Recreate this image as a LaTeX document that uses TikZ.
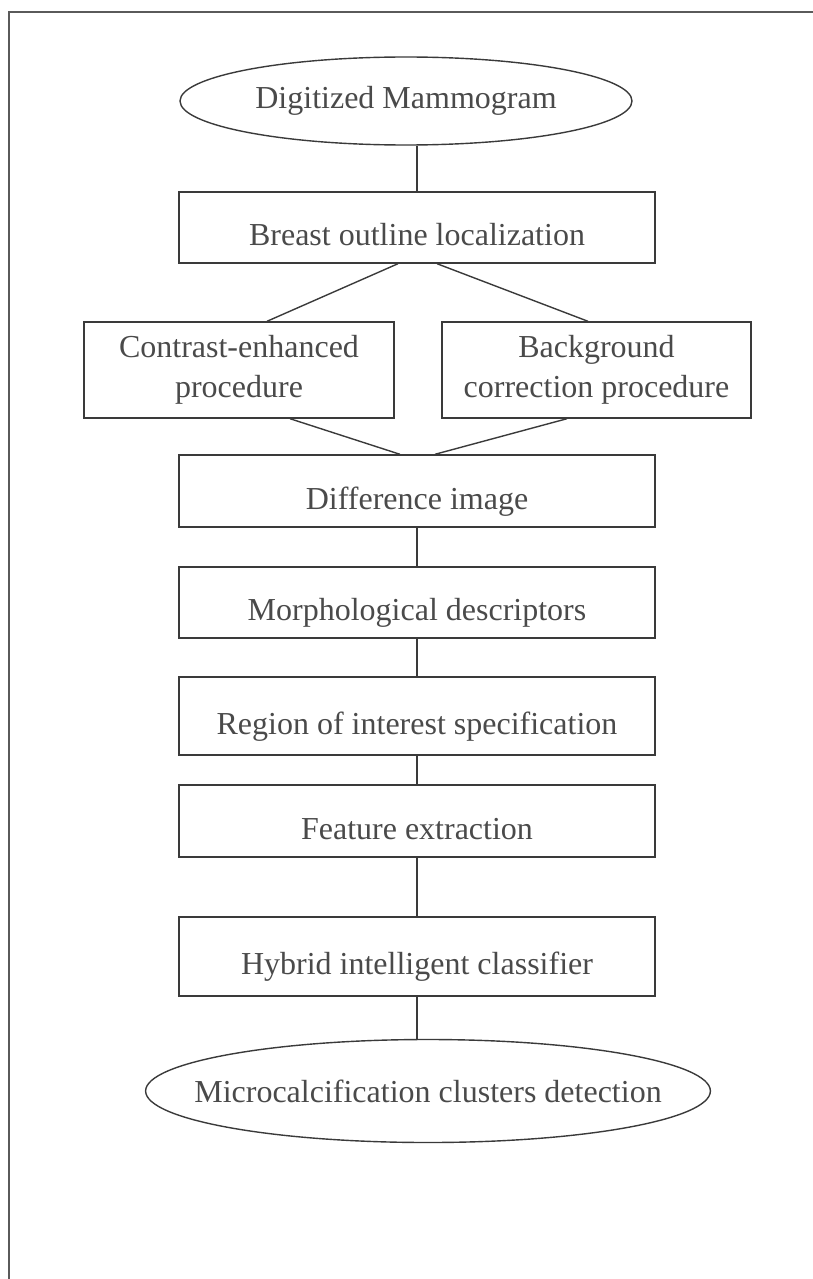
\documentclass[tikz,border=0pt]{standalone}
\usepackage{fontspec}
\setmainfont{Liberation Serif}
\usetikzlibrary{shapes.geometric,calc}
\definecolor{inkgray}{HTML}{4A4A4A}
\definecolor{linegray}{HTML}{3A3A3A}
\definecolor{framegray}{HTML}{5A5A5A}

\begin{document}
\begin{tikzpicture}[x=0.5pt,y=-0.5pt,
    stepbox/.style={draw=linegray, line width=0.7pt, rectangle, inner sep=0pt,
        text=inkgray, font=\fontsize{16}{20}\selectfont, minimum width=238pt},
    onerow/.style={text height=18pt, text depth=0pt},
    tworow/.style={align=center, minimum height=48pt},
    terminal/.style={draw=linegray, line width=0.7pt, ellipse, inner sep=0pt,
        text=inkgray, font=\fontsize{16}{20}\selectfont},
    link/.style={draw=linegray, line width=0.7pt}]

    \useasboundingbox (0,0) rectangle (813,1279);

    % page frame
    \draw[framegray, line width=1pt] (813,12) -- (9,12) -- (9,1279);

    % start and end
    \node[terminal, minimum width=226pt, minimum height=44pt] (mammo) at (406,101) {Digitized Mammogram};
    \node[terminal, inner xsep=-17pt, minimum width=278pt, minimum height=51.5pt] (detect) at (428,1091) {Microcalcification clusters detection};

    % main steps
    \node[stepbox, onerow, minimum height=35.5pt] (outline) at (417,227.5) {Breast outline localization};
    \node[stepbox, tworow, minimum width=155pt] (contrast) at (239,370) {Contrast-enhanced\\procedure};
    \node[stepbox, tworow, minimum width=154.5pt] (backgr) at (596.5,370) {Background\\correction procedure};
    \node[stepbox, onerow, minimum height=36pt] (diff) at (417,491) {Difference image};
    \node[stepbox, onerow, minimum height=35.5pt] (morph) at (417,602.5) {Morphological descriptors};
    \node[stepbox, onerow, minimum height=39pt] (roi) at (417,716) {Region of interest specification};
    \node[stepbox, onerow, minimum height=36pt] (feat) at (417,821) {Feature extraction};
    \node[stepbox, onerow, minimum height=39.5pt] (hybrid) at (417,956.5) {Hybrid intelligent classifier};

    % straight links
    \draw[link] (outline.north) -- (outline.north |- mammo.south);
    \draw[link] (diff.south) -- (morph.north);
    \draw[link] (morph.south) -- (roi.north);
    \draw[link] (roi.south) -- (feat.north);
    \draw[link] (feat.south) -- (hybrid.north);
    \draw[link] (hybrid.south) -- (hybrid.south |- detect.north);

    % split and merge
    \draw[link] ($(outline.south)+(-19,0)$) -- ($(contrast.north)+(28,0)$);
    \draw[link] ($(outline.south)+(20,0)$) -- ($(backgr.north)+(-8.5,0)$);
    \draw[link] ($(contrast.south)+(51,0)$) -- ($(diff.north)+(-17,0)$);
    \draw[link] ($(backgr.south)+(-29.5,0)$) -- ($(diff.north)+(18,0)$);

\end{tikzpicture}
\end{document}
